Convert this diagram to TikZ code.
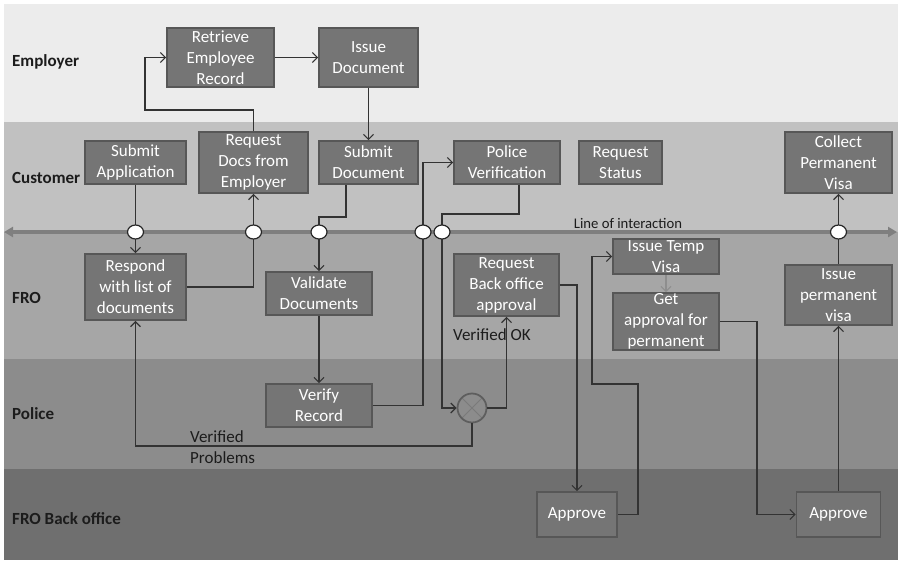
\documentclass[tikz,border=0pt]{standalone}
\usepackage{fontspec}
\setmainfont{Carlito}
\usetikzlibrary{arrows.meta,shapes.geometric}

% lane shades
\definecolor{laneEmp}{HTML}{ECECEC}
\definecolor{laneCus}{HTML}{C1C1C1}
\definecolor{laneFRO}{HTML}{A6A6A6}
\definecolor{lanePol}{HTML}{8C8C8C}
\definecolor{laneBack}{HTML}{6F6F6F}
% boxes, lines, text
\definecolor{boxfill}{HTML}{757575}
\definecolor{boxline}{HTML}{575757}
\definecolor{connc}{HTML}{333333}
\definecolor{softconn}{HTML}{8E8E8E}
\definecolor{loic}{HTML}{7F7F7F}
\definecolor{lanetxt}{HTML}{1C1C1C}
\definecolor{gwline}{HTML}{5E5E5E}
\definecolor{gwx}{HTML}{7A7A7A}

% a process box: name, x, y, width, height, text
\newcommand{\stepnode}[6]{%
  \node[box, minimum width=#4pt, minimum height=#5pt,
        label={[btxt]center:{#6}}] (#1) at (#2,#3) {};}

\begin{document}
\begin{tikzpicture}[x=1pt, y=-1pt,
  box/.style={rectangle, draw=boxline, fill=boxfill, line width=1.6pt, inner sep=0pt},
  btxt/.style={text=white, align=center, inner sep=0pt,
               font=\fontsize{17}{21}\selectfont},
  conn/.style={draw=connc, line width=1.2pt,
               -{Straight Barb[length=5pt,width=10pt]}},
  lanelabel/.style={anchor=west, text=lanetxt, inner sep=0pt,
                    font=\fontsize{17}{20}\selectfont\bfseries},
  note/.style={anchor=west, align=left, text=lanetxt, inner sep=0pt,
               font=\fontsize{17}{21}\selectfont},
  port/.style={ellipse, draw=black!85, fill=white, line width=1.2pt,
               minimum width=16pt, minimum height=14pt, inner sep=0pt},
  loi/.style={draw=loic, line width=4pt,
              {Triangle[length=9pt,width=10pt]}-{Triangle[length=9pt,width=10pt]}}
]
\useasboundingbox (0,0) rectangle (899,563);
\fill[white] (0,0) rectangle (899,563);

% swimlanes
\fill[laneEmp]  (4,4)   rectangle (898,122);
\fill[laneCus]  (4,122) rectangle (898,232);
\fill[laneFRO]  (4,232) rectangle (898,359);
\fill[lanePol]  (4,359) rectangle (898,469);
\fill[laneBack] (4,469) rectangle (898,560);

\node[lanelabel] (lEmp)  at (12,62)  {Employer};
\node[lanelabel] (lCus)  at (12,178) {Customer};
\node[lanelabel] (lFRO)  at (12,298) {FRO};
\node[lanelabel] (lPol)  at (12,414) {Police};
\node[lanelabel] (lBack) at (12,519) {FRO Back office};

% line of interaction
\coordinate (loiL) at (4,232);
\coordinate (loiR) at (897,232);
\draw[loi] (loiL) -- (loiR);
\node[text=lanetxt, font=\fontsize{14.7}{17}\selectfont, inner sep=0pt]
  (loitxt) at (628,223) {Line of interaction};

% process steps
\stepnode{ret}{220.5}{57.5}{107}{59}{Retrieve\\Employee\\Record}
\stepnode{issue}{368.5}{57.5}{99}{59}{Issue\\Document}
\stepnode{subapp}{135.5}{162.5}{101}{43}{Submit\\Application}
\stepnode{reqdocs}{253.5}{162.5}{109}{61}{Request\\Docs from\\Employer}
\stepnode{subdoc}{368.5}{162.5}{99}{43}{Submit\\Document}
\stepnode{policever}{507}{162.5}{106}{43}{Police\\Verification}
\stepnode{reqstatus}{620.5}{162.5}{83}{43}{Request\\Status}
\stepnode{collect}{838.5}{162.5}{107}{61}{Collect\\Permanent\\Visa}
\stepnode{respond}{135.5}{287}{101}{66}{Respond\\with list of\\documents}
\stepnode{validate}{319}{293.5}{106}{43}{Validate\\Documents}
\stepnode{verify}{319}{405.5}{106}{43}{Verify\\Record}
\stepnode{reqback}{506.5}{285}{105}{62}{Request\\Back office\\approval}
\stepnode{temp}{666}{256.5}{106}{35}{Issue Temp\\Visa}
\stepnode{getappr}{666}{321.5}{106}{57}{Get\\approval for\\permanent}
\stepnode{issueperm}{838.5}{295}{107}{60}{Issue\\permanent\\visa}
\stepnode{approveA}{577}{514.5}{80}{45}{Approve}
\stepnode{approveB}{838.5}{514.5}{84}{45}{Approve}

% verification gateway
\node[circle, draw=gwline, fill=lanePol, line width=1.8pt, minimum size=29pt,
      inner sep=0pt,
      path picture={\draw[gwx, line width=1pt]
        (path picture bounding box.north west) -- (path picture bounding box.south east)
        (path picture bounding box.north east) -- (path picture bounding box.south west);}]
  (gw) at (472,408) {};

% connectors
\draw[conn] (subapp.south) -- (respond.north);
\draw[conn] (respond.east) -| (reqdocs.south);
\draw[conn] (reqdocs.north) |- (145,110) |- (ret.west);
\draw[conn] (ret.east) -- (issue.west);
\draw[conn] (issue.south) -- (subdoc.north);
\draw[conn] ([xshift=-22.5pt]subdoc.south) |- (validate.north |- 0,217) -- (validate.north);
\draw[conn] (validate.south) -- (verify.north);
\draw[conn] (verify.east) -| (423,162.5) -- (policever.west);
\draw[conn] ([xshift=12pt]policever.south) |- (442,214) |- (gw.west);
\draw[conn] (gw.east) -| (reqback.south);
\draw[conn] (gw.south) |- (respond.south |- 0,446) -- (respond.south);
\draw[conn] (reqback.east) -| (approveA.north);
\draw[conn] (approveA.east) -| (638,384) -| (temp.west -| 592,0) -- (temp.west);
\draw[conn, draw=softconn] (temp.south) -- (getappr.north);
\draw[conn] (getappr.east) -| (approveB.west -| 757,0) -- (approveB.west);
\draw[conn] (approveB.north) -- (issueperm.south);
\draw[conn] (issueperm.north) -- (collect.south);

% branch labels
\node[note] (okTxt) at (453,335) {Verified OK};
\node[note] (probTxt) at (190,447.5) {Verified\\Problems};

% touch points on the line of interaction
\node[port] (p1) at (135.5,232) {};
\node[port] (p2) at (253.5,232) {};
\node[port] (p3) at (319,232) {};
\node[port] (p4) at (423,232) {};
\node[port] (p5) at (442,232) {};
\node[port] (p6) at (838.5,232) {};
\end{tikzpicture}
\end{document}
